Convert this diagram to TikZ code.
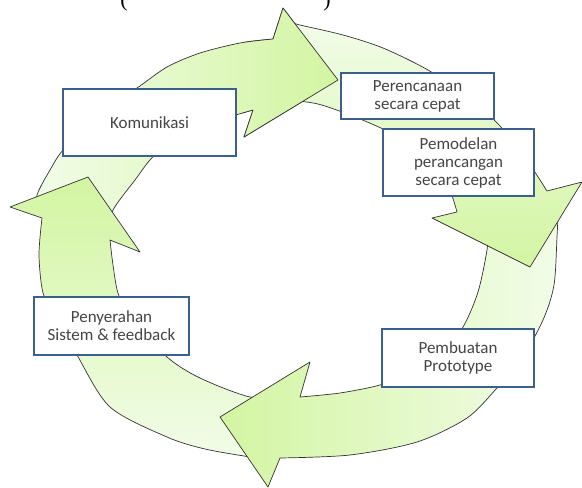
\documentclass[tikz,border=0pt]{standalone}
\usepackage{fontspec}
\setmainfont{Carlito}
\newfontfamily\captionfont{Liberation Serif}
\usepackage{tikz}
\definecolor{boxblue}{HTML}{3B5F8E}
\definecolor{textgray}{HTML}{454545}
\definecolor{headgreen}{HTML}{D3F5A2}
\definecolor{tailgreen}{HTML}{F2FCE8}
\definecolor{edgegray}{HTML}{333333}
\tikzset{
  cyclearrow/.style={draw=edgegray, line width=0.7pt, line join=round},
  stagebox/.style={draw=boxblue, line width=2.2pt, fill=white, align=center, text=textgray, inner sep=2pt, font=\fontsize{17}{18}\selectfont},
  bracket/.style={inner sep=0pt, anchor=south, text=black, font=\captionfont\fontsize{22}{24}\selectfont}
}
% outlines of the four cycle arrows (pixel units, y down)
\newcommand{\arrowA}{plot[smooth] coordinates {(38,212) (37,195) (50,170) (63,150) (98,113) (137,88) (167,67) (200,53) (240,43) (273,39)} -- (283,8) -- (338,80) -- (244,137) -- plot[smooth] coordinates {(253,110) (200,127) (157,153) (135,180) (113,210) (112,226)} -- cycle}
\newcommand{\arrowB}{plot[smooth] coordinates {(290,22) (300,25) (343,35) (383,48) (428,70) (468,97) (500,126) (530,165) (547,191)} -- (582,182) -- (530,267) -- (432,218) -- plot[smooth] coordinates {(457,212) (445,178) (420,150) (385,130) (350,115) (318,104) (290,100)} -- cycle}
\newcommand{\arrowC}{plot[smooth] coordinates {(558,215) (557,237) (554,285) (543,320) (520,362) (497,388) (467,418) (417,442) (350,455) (280,458)} -- (268,487) -- (220,417) -- (310,362) -- plot[smooth] coordinates {(300,397) (340,393) (380,385) (415,372) (442,353) (463,327) (478,292) (487,250) (488,228)} -- cycle}
\newcommand{\arrowD}{plot[smooth] coordinates {(268,460) (250,457) (205,449) (167,437) (110,407) (77,355) (55,315) (43,293) (39,255) (42,218)} -- (10,207) -- (88,177) -- (140,252) -- plot[smooth] coordinates {(110,240) (113,265) (118,293) (130,318) (167,357) (200,378) (250,397) (290,398)} -- cycle}
\begin{document}
\begin{tikzpicture}[x=1pt,y=-1pt]
  \useasboundingbox (0,0) rectangle (582,488);
  % cycle arrows, each head lies over the next tail
  \draw[cyclearrow, left color=tailgreen, right color=headgreen] \arrowA;
  \draw[cyclearrow, bottom color=tailgreen, top color=headgreen] \arrowD;
  \draw[cyclearrow, right color=tailgreen, left color=headgreen] \arrowC;
  \draw[cyclearrow, top color=tailgreen, bottom color=headgreen] \arrowB;
  \begin{scope}
    \clip (242,0) rectangle (345,140);
    \draw[cyclearrow, left color=tailgreen, right color=headgreen] \arrowA;
  \end{scope}
  % stages
  \node[stagebox, minimum width=173pt, minimum height=67pt] (komunikasi) at (149.5,122.5) {Komunikasi};
  \node[stagebox, minimum width=153pt, minimum height=46pt] (perencanaan) at (417.5,96) {Perencanaan\\secara cepat};
  \node[stagebox, minimum width=151pt, minimum height=67pt] (pemodelan) at (458.5,162.5) {Pemodelan\\perancangan\\secara cepat};
  \node[stagebox, minimum width=152pt, minimum height=58pt] (pembuatan) at (458,358) {Pembuatan\\Prototype};
  \node[stagebox, minimum width=155pt, minimum height=58pt] (penyerahan) at (111.5,326) {Penyerahan\\Sistem \& feedback};
  % caption cut off at the top
  \node[bracket] (lparen) at (124,11) {(};
  \node[bracket] (rparen) at (327,11) {)};
\end{tikzpicture}
\end{document}
